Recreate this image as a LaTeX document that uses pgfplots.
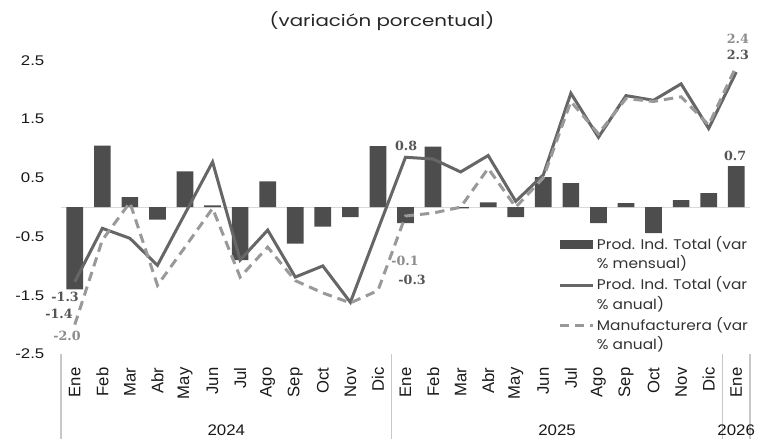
\documentclass[border=0pt]{standalone}
\usepackage{pgfplots}
\pgfplotsset{compat=1.18}
\usepackage{fontspec}
\setmainfont{Liberation Sans}
\newfontfamily\tickfont[FakeStretch=1.2]{Liberation Sans}
\newfontfamily\yearfont[FakeStretch=1.1]{Liberation Sans}
\newfontfamily\legfont[FakeStretch=1.1]{Poppins}
\newfontfamily\titlefont[FakeStretch=1.24]{Poppins}
\newfontfamily\lblfont{DejaVu Serif}
\definecolor{barcol}{HTML}{4D4D4D}
\definecolor{anncol}{HTML}{666666}
\definecolor{mancol}{HTML}{999999}
\definecolor{lbldark}{HTML}{555555}
\definecolor{lbllight}{HTML}{8C8C8C}
\definecolor{zerocol}{HTML}{D9D9D9}
\definecolor{sepcol}{HTML}{C8C8C8}
\begin{document}
\begin{tikzpicture}
\path (0,0) rectangle (574.5pt,329.25pt);
\begin{axis}[
  at={(45.75pt,63.75pt)}, anchor=south west,
  scale only axis, width=516.75pt, height=242.25pt,
  xmin=-0.5, xmax=24.5, ymin=-2.5, ymax=3,
  clip=false,
  axis line style={draw=none},
  major tick length=0pt,
  ytick={-2.5,-1.5,-0.5,0.5,1.5,2.5},
  /pgf/number format/assume math mode=true,
  /pgf/number format/.cd, fixed, fixed zerofill, precision=1, /pgfplots/.cd,
  yticklabel style={font=\tickfont\fontsize{10.5}{12}\selectfont, text=black!90, xshift=-9pt},
  xtick={0,...,24},
  xticklabels={Ene,Feb,Mar,Abr,May,Jun,Jul,Ago,Sep,Oct,Nov,Dic,Ene,Feb,Mar,Abr,May,Jun,Jul,Ago,Sep,Oct,Nov,Dic,Ene},
  xticklabel style={rotate=90, anchor=east, inner xsep=10pt, inner ysep=0pt, font=\fontsize{12.5}{14}\selectfont, text=black!90},
  legend style={draw=none, fill=none, at={(rel axis cs:0.7213,0.3745)}, anchor=north west,
    font=\legfont\fontsize{10.5}{14.6}\selectfont, text=black!80,
    cells={align=left, anchor=base west}, row sep=0.6pt, inner sep=0pt},
]
\draw[zerocol, line width=0.9pt] (axis cs:-0.5,0) -- (axis cs:24.5,0);
\draw[sepcol, line width=0.8pt] (axis cs:-0.5,-2.5) -- ++(0pt,-63.75pt);
\draw[sepcol, line width=0.8pt] (axis cs:11.5,-2.5) -- ++(0pt,-63.75pt);
\draw[sepcol, line width=0.8pt] (axis cs:23.5,-2.5) -- ++(0pt,-63.75pt);
\draw[sepcol, line width=0.8pt] (axis cs:24.5,-2.5) -- ++(0pt,-63.75pt);
\addplot[ybar, bar width=12.5pt, fill=barcol, draw=none,
  legend image code/.code={\fill[barcol] (0pt,14.6pt) rectangle (24.75pt,21.4pt);}]
coordinates {
(0,-1.4) (1,1.05) (2,0.17) (3,-0.21) (4,0.61) (5,0.03) (6,-0.9) (7,0.44)
(8,-0.62) (9,-0.33) (10,-0.17) (11,1.04) (12,-0.27) (13,1.03) (14,-0.02) (15,0.08)
(16,-0.17) (17,0.51) (18,0.41) (19,-0.27) (20,0.07) (21,-0.44) (22,0.12) (23,0.24) (24,0.7)};
\addlegendentry{Prod. Ind. Total (var\\\% mensual)}
\addplot[anncol, line width=2.25pt, mark=none,
  legend image code/.code={\draw[anncol, line width=2.25pt] (0pt,18pt) -- (24.75pt,18pt);}]
coordinates {
(0,-1.27) (1,-0.36) (2,-0.53) (3,-0.99) (4,-0.11) (5,0.77) (6,-0.9) (7,-0.39)
(8,-1.19) (9,-1.0) (10,-1.62) (11,-0.38) (12,0.85) (13,0.82) (14,0.6) (15,0.88)
(16,0.1) (17,0.55) (18,1.94) (19,1.19) (20,1.9) (21,1.82) (22,2.1) (23,1.34) (24,2.3)};
\addlegendentry{Prod. Ind. Total (var\\\% anual)}
\addplot[mancol, line width=2.25pt, dash pattern=on 7pt off 4.5pt, mark=none,
  legend image code/.code={\draw[mancol, line width=2.25pt, dash pattern=on 7pt off 4.5pt] (0pt,18pt) -- (24.75pt,18pt);}]
coordinates {
(0,-2.0) (1,-0.56) (2,0.08) (3,-1.33) (4,-0.68) (5,-0.02) (6,-1.19) (7,-0.68)
(8,-1.25) (9,-1.46) (10,-1.63) (11,-1.42) (12,-0.15) (13,-0.1) (14,0.0) (15,0.66)
(16,0.0) (17,0.5) (18,1.8) (19,1.25) (20,1.85) (21,1.8) (22,1.88) (23,1.4) (24,2.4)};
\addlegendentry{Manufacturera (var\\\% anual)}
\begin{scope}[every node/.style={font=\lblfont\bfseries\fontsize{9.5}{11}\selectfont, inner sep=0pt}]
\node[text=lbldark] at (axis cs:-0.35,-1.53) {-1.3};
\node[text=lbldark] at (axis cs:-0.57,-1.82) {-1.4};
\node[text=lbllight] at (axis cs:-0.28,-2.19) {-2.0};
\node[text=lbldark] at (axis cs:12.02,1.05) {0.8};
\node[text=lbllight] at (axis cs:11.98,-0.92) {-0.1};
\node[text=lbldark] at (axis cs:12.24,-1.24) {-0.3};
\node[text=lbldark] at (axis cs:23.96,0.88) {0.7};
\node[text=lbllight] at (axis cs:24.06,2.87) {2.4};
\node[text=lbldark] at (axis cs:24.06,2.60) {2.3};
\end{scope}
\node[font=\yearfont\fontsize{11.5}{13}\selectfont, text=black!90] at ([yshift=-57pt]axis cs:5.5,-2.5) {2024};
\node[font=\yearfont\fontsize{11.5}{13}\selectfont, text=black!90] at ([yshift=-57pt]axis cs:17.5,-2.5) {2025};
\node[font=\yearfont\fontsize{11.5}{13}\selectfont, text=black!90] at ([yshift=-57pt]axis cs:24,-2.5) {2026};
\end{axis}
\node[font=\titlefont\fontsize{12}{14}\selectfont, text=black!85] at (286.5pt,313.5pt) {(variación porcentual)};
\end{tikzpicture}
\end{document}
